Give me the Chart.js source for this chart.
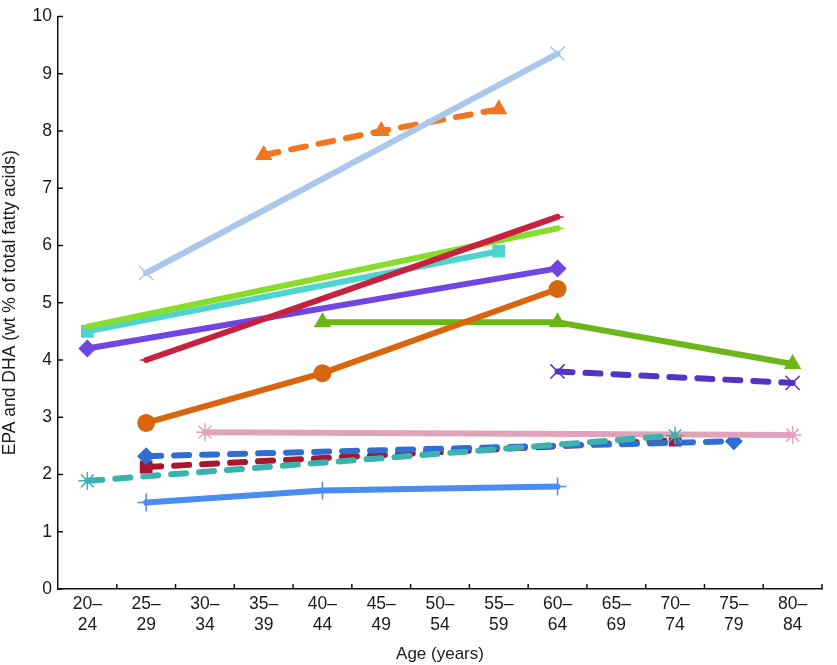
<!DOCTYPE html>
<html>
<head>
<meta charset="utf-8">
<script src="https://cdn.jsdelivr.net/npm/chart.js@4/dist/chart.umd.min.js"></script>
<style>
  html, body { margin: 0; padding: 0; background: #fff; }
  #wrap { width: 837px; height: 665px; }
</style>
</head>
<body>
<div id="wrap"><canvas id="lineChart" width="837" height="665"></canvas></div>
<script>
// age groups (x axis)
const ageGroups = [
  ['20–', '24'], ['25–', '29'], ['30–', '34'], ['35–', '39'], ['40–', '44'],
  ['45–', '49'], ['50–', '54'], ['55–', '59'], ['60–', '64'], ['65–', '69'],
  ['70–', '74'], ['75–', '79'], ['80–', '84']
];
const yTicks = [0, 1, 2, 3, 4, 5, 6, 7, 8, 9, 10];

// one array per study line, null = no value at that age group
const lightBlue   = [null, 5.52, null, null, null, null, null, null, 9.35, null, null, null, null];
const orangeDash  = [null, null, null, 7.58, null, 8.0, null, 8.38, null, null, null, null, null];
const crimson     = [null, 4.0, null, null, null, null, null, null, 6.5, null, null, null, null];
const limeGreen   = [4.58, null, null, null, null, null, null, null, 6.3, null, null, null, null];
const turquoise   = [4.5, null, null, null, null, null, null, 5.9, null, null, null, null, null];
const violet      = [4.2, null, null, null, null, null, null, null, 5.6, null, null, null, null];
const burntOrange = [null, 2.9, null, null, 3.77, null, null, null, 5.24, null, null, null, null];
const green       = [null, null, null, null, 4.66, null, null, null, 4.66, null, null, null, 3.93];
const indigoDash  = [null, null, null, null, null, null, null, null, 3.8, null, null, null, 3.6];
const pink        = [null, null, 2.74, null, null, null, null, null, null, null, null, null, 2.69];
const blueDash    = [null, 2.32, null, null, null, null, null, null, null, null, null, 2.58, null];
const darkRedDash = [null, 2.13, null, null, null, null, null, null, null, null, 2.6, null, null];
const tealDash    = [1.89, null, null, null, null, null, null, null, null, null, 2.68, null, null];
const bluePlus    = [null, 1.51, null, null, 1.72, null, null, null, 1.79, null, null, null, null];

function series(data, color, marker, size, dashed) {
  const thin = ['crossRot', 'star', 'cross', 'line'].includes(marker);
  return {
    data: data,
    borderColor: color,
    backgroundColor: color,
    borderWidth: 6,
    borderDash: dashed ? [15, 13] : [],
    borderCapStyle: 'round',
    pointStyle: marker,
    pointRadius: size,
    pointBorderWidth: thin ? 1.5 : 0,
    pointBorderColor: color,
    spanGaps: true,
    tension: 0
  };
}

const tickMarks = {
  id: 'tickMarks',
  afterDraw(chart) {
    const { ctx, scales: { x, y } } = chart;
    ctx.save();
    ctx.strokeStyle = '#111';
    ctx.lineWidth = 1.5;
    const step = x.getPixelForValue(1) - x.getPixelForValue(0);
    ageGroups.forEach((g, i) => {
      const px = x.getPixelForValue(i) + step / 2;
      ctx.beginPath();
      ctx.moveTo(px, y.bottom);
      ctx.lineTo(px, y.bottom - 5);
      ctx.stroke();
    });
    yTicks.forEach(v => {
      const py = y.getPixelForValue(v);
      ctx.beginPath();
      ctx.moveTo(x.left, py);
      ctx.lineTo(x.left + 5, py);
      ctx.stroke();
    });
    ctx.restore();
  }
};

Chart.defaults.font.family = '"Liberation Sans", Arial, sans-serif';
Chart.defaults.color = '#1a1a1a';

// first dataset is drawn on top
new Chart(document.getElementById('lineChart'), {
  type: 'line',
  data: {
    labels: ageGroups,
    datasets: [
      series(lightBlue, '#a9c6ec', 'crossRot', 10, false),
      series(orangeDash, '#f27522', 'triangle', 10, true),
      series(crimson, '#c8213f', 'line', 6, false),
      series(limeGreen, '#88dc2c', 'line', 6, false),
      series(turquoise, '#4ed4d0', 'rect', 9, false),
      series(violet, '#7145e2', 'rectRot', 9, false),
      series(burntOrange, '#d9650f', 'circle', 9, false),
      series(green, '#6cb61a', 'triangle', 10, false),
      series(indigoDash, '#5234c2', 'crossRot', 10, true),
      series(tealDash, '#3ab3ae', 'star', 9, true),
      series(pink, '#e0a3ba', 'star', 9, false),
      series(blueDash, '#2f6dd2', 'rectRot', 9, true),
      series(darkRedDash, '#a8162f', 'rect', 9, true),
      series(bluePlus, '#4a8cf0', 'cross', 9, false)
    ]
  },
  options: {
    responsive: false,
    animation: false,
    layout: { padding: { top: 12, right: 15, left: 0, bottom: 0 } },
    plugins: { legend: { display: false }, tooltip: { enabled: false } },
    scales: {
      x: {
        type: 'category',
        offset: true,
        grid: { display: false, offset: true, drawTicks: false, tickLength: 0 },
        border: { display: true, color: '#111', width: 1.5 },
        ticks: { font: { size: 17.5 }, padding: 5, maxRotation: 0, autoSkip: false },
        title: { display: true, text: 'Age (years)', font: { size: 17 }, padding: { top: 6, bottom: 0 } },
        afterFit(scale) { scale.height = 76; }
      },
      y: {
        min: 0,
        max: 10,
        afterBuildTicks(scale) { scale.ticks = yTicks.map(v => ({ value: v })); },
        grid: { display: false, drawTicks: false, tickLength: 0 },
        border: { display: true, color: '#111', width: 1.5 },
        ticks: { font: { size: 17.5 }, padding: 6 },
        title: { display: true, text: 'EPA and DHA (wt % of total fatty acids)', font: { size: 17.5 }, padding: { top: 0, bottom: 4 } },
        afterFit(scale) { scale.width = 58; }
      }
    }
  },
  plugins: [tickMarks]
});
</script>
</body>
</html>
